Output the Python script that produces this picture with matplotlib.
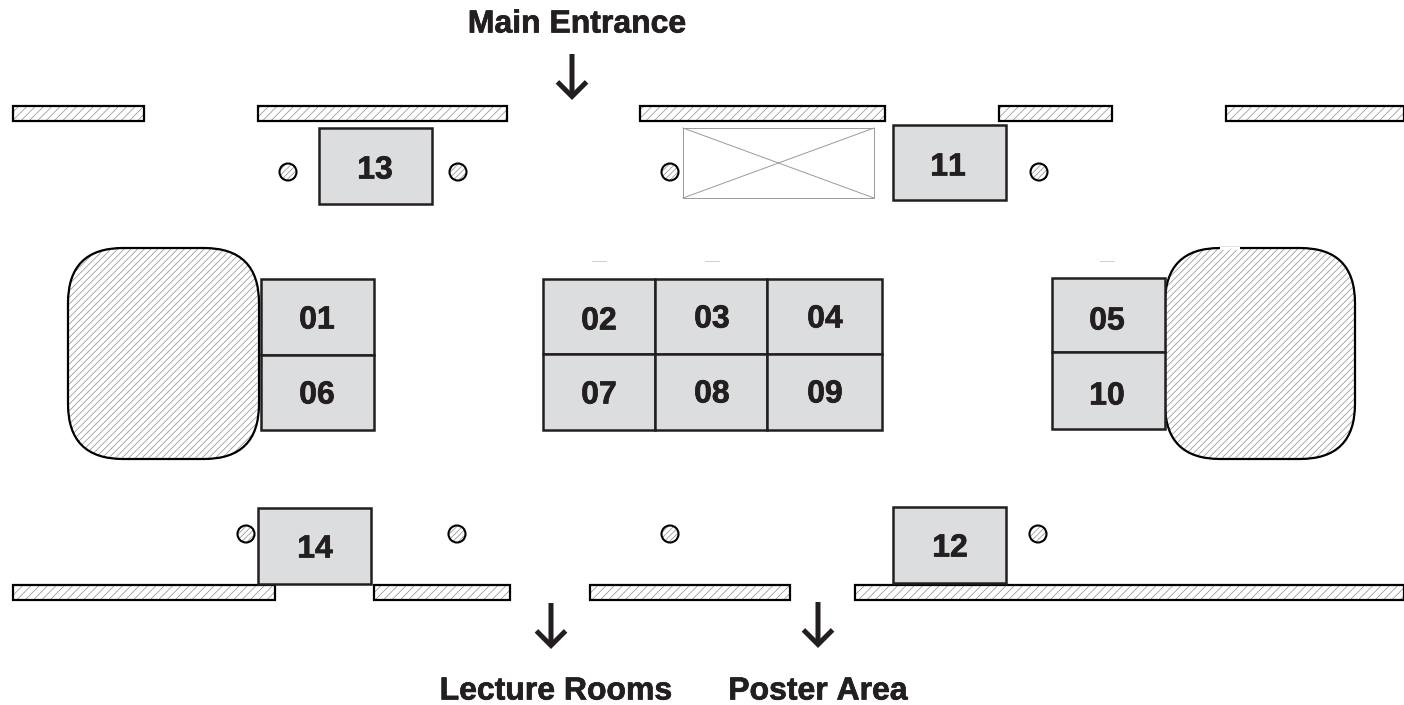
import matplotlib
matplotlib.use("Agg")
import matplotlib.pyplot as plt
import matplotlib.patheffects as pe
from matplotlib.patches import Rectangle, Circle, FancyBboxPatch

plt.rcParams['font.family'] = ['Liberation Sans', 'DejaVu Sans']
plt.rcParams['hatch.linewidth'] = 0.5
plt.rcParams['text.kerning_factor'] = 6

W, H = 1404, 705
GREY = '#dcddde'
DARK = '#231f20'
HATCH = '#8c8c8c'

booth_labels = ['13', '11', '01', '06', '02', '03', '04', '07', '08', '09', '05', '10', '14', '12']
booth_x0 = [319, 893, 261, 261, 543, 655, 767, 543, 655, 767, 1052, 1052, 258, 893]
booth_y0 = [128, 125, 279, 355, 279, 279, 279, 354, 354, 354, 278, 352, 508, 507]
booth_x1 = [432, 1006, 374, 374, 655, 767, 882, 655, 767, 882, 1165, 1165, 371, 1006]
booth_y1 = [204, 200, 355, 430, 354, 354, 354, 430, 430, 430, 352, 429, 584, 583]
label_x = [375, 948, 317, 317, 599, 712, 825, 599, 712, 825, 1107, 1107, 315, 950]
label_y = [167, 164, 317, 392, 318, 316, 316, 392, 391, 391, 318, 393, 546, 545]

wall_x0 = [13, 258, 640, 999, 1226, 13, 374, 590, 855]
wall_x1 = [144, 507, 885, 1112, 1404, 275, 510, 790, 1404]
wall_y0 = [106, 106, 106, 106, 106, 585, 585, 585, 585]
wall_y1 = [121, 121, 121, 121, 121, 600, 600, 600, 600]

column_x = [288, 458, 670, 1039, 246, 457, 670, 1038]
column_y = [172, 172, 172, 172, 534, 534, 534, 534]

arrow_x = [572, 551, 818]
arrow_y0 = [54, 603, 602]
arrow_y1 = [100, 649, 648]

titles = ['Main Entrance', 'Lecture Rooms', 'Poster Area']
title_x = [577, 556, 818]
title_y = [21, 688, 688]

block_x0 = [68, 1165]
block_x1 = [259, 1355]
block_y0 = 248
block_y1 = 459
block_radius = 55

faint_x0 = [592, 705, 1100]
faint_x1 = [606, 719, 1114]
faint_y = 261

bolder = [pe.withStroke(linewidth=0.5, foreground=DARK)]

fig = plt.figure(figsize=(W / 100, H / 100), dpi=100)
ax = fig.add_axes([0, 0, 1, 1])
ax.set_xlim(0, W)
ax.set_ylim(H, 0)
ax.axis('off')

for x0, x1, y0, y1 in zip(wall_x0, wall_x1, wall_y0, wall_y1):
    ax.add_patch(Rectangle((x0, y0), x1 - x0, y1 - y0, fc='white', ec=HATCH, lw=0, hatch='////'))
    ax.add_patch(Rectangle((x0, y0), x1 - x0, y1 - y0, fc='none', ec='black', lw=1.6))

for x0, x1 in zip(block_x0, block_x1):
    r = block_radius
    box = dict(boxstyle=f'round,pad={r},rounding_size={r}')
    xy = (x0 + r, block_y0 + r)
    size = (x1 - x0 - 2 * r, block_y1 - block_y0 - 2 * r)
    ax.add_patch(FancyBboxPatch(xy, *size, fc='white', ec=HATCH, lw=0, hatch='/////', **box))
    ax.add_patch(FancyBboxPatch(xy, *size, fc='none', ec='black', lw=1.6, **box))

# small break in the top edge of the right block
ax.plot([1221, 1238], [block_y0, block_y0], color='white', lw=2.2, zorder=2)

for x0, x1 in zip(faint_x0, faint_x1):
    ax.plot([x0, x1], [faint_y, faint_y], color='#cfcfcf', lw=0.7)

cx0, cx1, cy0, cy1 = 683, 874, 128, 198
ax.add_patch(Rectangle((cx0, cy0), cx1 - cx0, cy1 - cy0, fc='white', ec='#9a9a9a', lw=0.7))
ax.plot([cx0, cx1], [cy0, cy1], color='#9a9a9a', lw=0.7)
ax.plot([cx0, cx1], [cy1, cy0], color='#9a9a9a', lw=0.7)

for name, x0, y0, x1, y1, lx, ly in zip(booth_labels, booth_x0, booth_y0, booth_x1, booth_y1, label_x, label_y):
    ax.add_patch(Rectangle((x0, y0), x1 - x0, y1 - y0, fc=GREY, ec=DARK, lw=1.8, zorder=3))
    ax.text(lx, ly, name, ha='center', va='center_baseline', fontsize=23, fontweight='bold', color=DARK,
            zorder=4, path_effects=bolder)

for x, y in zip(column_x, column_y):
    ax.add_patch(Circle((x, y), 8.5, fc='white', ec=HATCH, lw=0, hatch='//////', zorder=2))
    ax.add_patch(Circle((x, y), 8.5, fc='none', ec='black', lw=1.5, zorder=2))

for x, y0, y1 in zip(arrow_x, arrow_y0, arrow_y1):
    ax.annotate('', xy=(x, y1), xytext=(x, y0),
                arrowprops=dict(arrowstyle='->,head_length=1.05,head_width=1.05', lw=3.6, color=DARK,
                                capstyle='butt', joinstyle='miter', shrinkA=0, shrinkB=0))

for t, x, y in zip(titles, title_x, title_y):
    ax.text(x, y, t, ha='center', va='center_baseline', fontsize=23, fontweight='bold', color=DARK,
            path_effects=bolder)

fig.savefig('out.png', dpi=100)
